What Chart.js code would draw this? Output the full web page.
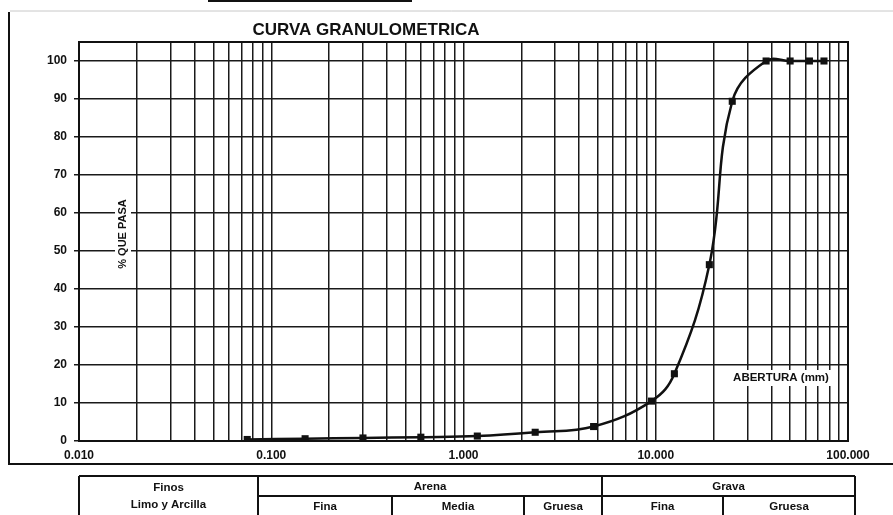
<!DOCTYPE html>
<html>
<head>
<meta charset="utf-8">
<script src="https://cdn.jsdelivr.net/npm/chart.js@4.4.1/dist/chart.umd.min.js"></script>
<style>
    html, body { margin: 0; padding: 0; background: #fff; }
    #wrap { width: 893px; height: 515px; }
</style>
</head>
<body>
<div id="wrap"><canvas id="granChart" width="893" height="515"></canvas></div>
<script>
// aberturas de tamices (mm) y % que pasa
const aberturas = [0.075, 0.15, 0.3, 0.6, 1.18, 2.36, 4.75, 9.5, 12.5, 19, 25, 37.5, 50, 63, 75];
const pasa = [0.4, 0.6, 0.8, 1.0, 1.3, 2.3, 3.8, 10.5, 17.7, 46.4, 89.4, 100, 100, 100, 100];

const xTickLabels = ["0.010", "0.100", "1.000", "10.000", "100.000"];
const yTickValues = [0, 10, 20, 30, 40, 50, 60, 70, 80, 90, 100];

const titulo = "CURVA GRANULOMETRICA";
const ejeY = "% QUE PASA";
const ejeX = "ABERTURA (mm)";

const tablaGrupos = ["Arena", "Grava"];
const tablaSub = ["Fina", "Media", "Gruesa", "Fina", "Gruesa"];
const tablaFinos = ["Finos", "Limo y Arcilla"];

const FONT = "'Liberation Sans', Arial, sans-serif";
const INK = "#111";

// marcas del eje logaritmico: 1..9 x 10^n
function logTicks() {
    const ticks = [];
    for (let e = -2; e <= 1; e++) {
        for (let s = 1; s <= 9; s++) {
            ticks.push({ value: s * Math.pow(10, e) });
        }
    }
    ticks.push({ value: 100 });
    return ticks;
}

function isDecade(v) {
    const l = Math.log10(v);
    return Math.abs(l - Math.round(l)) < 1e-6;
}

const extras = {
    id: "extras",
    beforeDatasetsDraw(chart) {
        const ctx = chart.ctx;
        const a = chart.chartArea;
        ctx.save();

        // etiqueta eje Y dentro del grafico
        ctx.font = "bold 11px " + FONT;
        ctx.translate(123, 234);
        ctx.rotate(-Math.PI / 2);
        let w = ctx.measureText(ejeY).width;
        ctx.fillStyle = "#fff";
        ctx.fillRect(-w / 2 - 3, -8, w + 6, 16);
        ctx.fillStyle = INK;
        ctx.textAlign = "center";
        ctx.textBaseline = "middle";
        ctx.fillText(ejeY, 0, 0);
        ctx.setTransform(1, 0, 0, 1, 0, 0);

        // etiqueta eje X
        ctx.font = "bold 11.5px " + FONT;
        w = ctx.measureText(ejeX).width;
        ctx.fillStyle = "#fff";
        ctx.fillRect(781 - w / 2 - 4, 370, w + 8, 16);
        ctx.fillStyle = INK;
        ctx.textAlign = "center";
        ctx.textBaseline = "middle";
        ctx.fillText(ejeX, 781, 378);

        // borde del area
        ctx.strokeStyle = INK;
        ctx.lineWidth = 2;
        ctx.strokeRect(a.left, a.top, a.right - a.left, a.bottom - a.top);
        ctx.restore();
    },
    afterDraw(chart) {
        const ctx = chart.ctx;
        ctx.save();

        // titulo
        ctx.fillStyle = INK;
        ctx.font = "bold 17px " + FONT;
        ctx.textAlign = "center";
        ctx.textBaseline = "middle";
        ctx.fillText(titulo, 366, 30);

        // marco exterior
        ctx.strokeStyle = "#c8c8c8";
        ctx.lineWidth = 1;
        ctx.beginPath();
        ctx.moveTo(10, 11);
        ctx.lineTo(893, 11);
        ctx.stroke();
        ctx.strokeStyle = INK;
        ctx.lineWidth = 2;
        ctx.beginPath();
        ctx.moveTo(9, 12);
        ctx.lineTo(9, 464);
        ctx.lineTo(893, 464);
        ctx.stroke();
        ctx.beginPath();
        ctx.moveTo(208, 1);
        ctx.lineTo(412, 1);
        ctx.stroke();

        // tabla de clasificacion
        const top = 476, mid = 496, bot = 518;
        const xs = [79, 258, 392, 524, 602, 723, 855];
        ctx.lineWidth = 2;
        ctx.beginPath();
        ctx.moveTo(xs[0], top); ctx.lineTo(xs[6], top);
        ctx.moveTo(xs[1], mid); ctx.lineTo(xs[6], mid);
        ctx.moveTo(xs[0], top); ctx.lineTo(xs[0], bot);
        ctx.moveTo(xs[1], top); ctx.lineTo(xs[1], bot);
        ctx.moveTo(xs[4], top); ctx.lineTo(xs[4], bot);
        ctx.moveTo(xs[6], top); ctx.lineTo(xs[6], bot);
        ctx.moveTo(xs[2], mid); ctx.lineTo(xs[2], bot);
        ctx.moveTo(xs[3], mid); ctx.lineTo(xs[3], bot);
        ctx.moveTo(xs[5], mid); ctx.lineTo(xs[5], bot);
        ctx.stroke();

        ctx.font = "bold 11.5px " + FONT;
        ctx.fillText(tablaFinos[0], (xs[0] + xs[1]) / 2, 488);
        ctx.fillText(tablaFinos[1], (xs[0] + xs[1]) / 2, 505);
        ctx.fillText(tablaGrupos[0], (xs[1] + xs[4]) / 2, 487);
        ctx.fillText(tablaGrupos[1], (xs[4] + xs[6]) / 2, 487);
        tablaSub.forEach((t, i) => {
            const l = xs[i + 1], r = xs[i + 2];
            ctx.fillText(t, (l + r) / 2, 507);
        });
        ctx.restore();
    },
};

const ctx = document.getElementById("granChart").getContext("2d");

new Chart(ctx, {
    type: "line",
    data: {
        datasets: [
            {
                label: ejeY,
                data: aberturas.map((x, i) => ({ x: x, y: pasa[i] })),
                borderColor: INK,
                backgroundColor: INK,
                borderWidth: 2.5,
                tension: 0.4,
                pointStyle: "rect",
                pointRadius: 5,
                pointBorderWidth: 0,
                fill: false,
            },
        ],
    },
    options: {
        responsive: false,
        animation: false,
        layout: { padding: { top: 42, right: 45, left: 0, bottom: 0 } },
        plugins: {
            legend: { display: false },
            tooltip: { enabled: false },
            title: { display: false },
        },
        scales: {
            x: {
                type: "logarithmic",
                min: 0.01,
                max: 100,
                afterBuildTicks: (scale) => {
                    scale.ticks = logTicks();
                },
                afterFit: (scale) => {
                    scale.height = 74;
                },
                grid: {
                    color: "#1a1a1a",
                    lineWidth: 1.5,
                    drawTicks: false,
                },
                border: { display: true, color: INK, width: 2 },
                ticks: {
                    autoSkip: false,
                    maxRotation: 0,
                    padding: 7,
                    color: INK,
                    font: { family: FONT, size: 12, weight: "bold" },
                    callback: (v) =>
                        isDecade(v) ? xTickLabels[Math.round(Math.log10(v)) + 2] : "",
                },
            },
            y: {
                min: 0,
                max: 105,
                afterBuildTicks: (scale) => {
                    scale.ticks = yTickValues.map((v) => ({ value: v }));
                },
                afterFit: (scale) => {
                    scale.width = 79;
                },
                grid: {
                    color: "#1a1a1a",
                    lineWidth: 1.5,
                    tickLength: 5,
                },
                border: { display: true, color: INK, width: 2 },
                ticks: {
                    padding: 7,
                    color: INK,
                    font: { family: FONT, size: 12, weight: "bold" },
                },
            },
        },
    },
    plugins: [extras],
});
</script>
</body>
</html>
